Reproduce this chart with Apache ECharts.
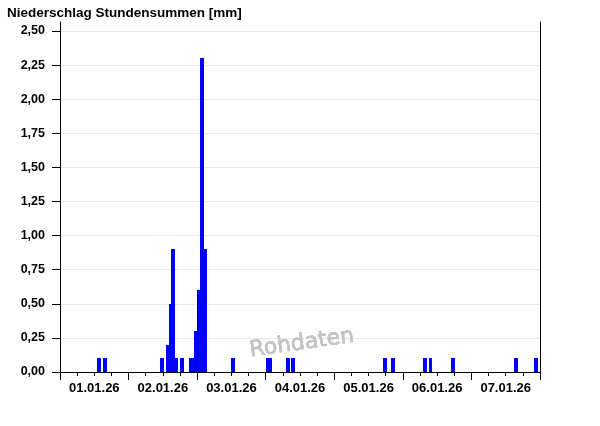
<!DOCTYPE html>
<html>
<head>
<meta charset="utf-8">
<script src="https://cdn.jsdelivr.net/npm/echarts@6/dist/echarts.min.js"></script>
<style>
html,body{margin:0;padding:0;background:#fff;}
#c{width:600px;height:426px;}
</style>
</head>
<body>
<div id="c"></div>
<script>
// Hours since 01.01.26 00:00 (start of each hourly sum) and precipitation [mm]
const rainHours  = [13, 15, 35, 37, 38, 39, 40, 42, 45, 46, 47, 48, 49, 50, 60, 72, 73, 79, 81, 113, 116, 127, 129, 137, 159, 166];
const rainValues = [0.1, 0.1, 0.1, 0.2, 0.5, 0.9, 0.1, 0.1, 0.1, 0.1, 0.3, 0.6, 2.3, 0.9, 0.1, 0.1, 0.1, 0.1, 0.1, 0.1, 0.1, 0.1, 0.1, 0.1, 0.1, 0.1];
const dayLabels  = ['01.01.26', '02.01.26', '03.01.26', '04.01.26', '05.01.26', '06.01.26', '07.01.26'];
const yTicks     = [0, 0.25, 0.5, 0.75, 1.0, 1.25, 1.5, 1.75, 2.0, 2.25, 2.5];
const yMax = 2.566;
const hoursTotal = 168;

const barData = rainHours.map((h, i) => [h, rainValues[i]]);
const midnights = [], sixHours = [], noons = [];
for (let h = 0; h <= hoursTotal; h += 6) {
  sixHours.push(h);
  if (h % 24 === 0) midnights.push(h);
  if (h % 24 === 12) noons.push(h);
}

const chart = echarts.init(document.getElementById('c'), null, {renderer: 'canvas'});
const fontFam = 'Liberation Sans, Arial, sans-serif';
chart.setOption({
  animation: false,
  backgroundColor: '#fff',
  title: {
    text: 'Niederschlag Stundensummen [mm]',
    left: 2, top: 1,
    textStyle: {fontFamily: fontFam, fontSize: 13.5, fontWeight: 'bold', color: '#000'}
  },
  grid: {left: 60, right: 60, top: 22, bottom: 54, containLabel: false},
  xAxis: [{
    type: 'value', min: 0, max: hoursTotal, position: 'bottom',
    axisLine: {show: true, onZero: false, lineStyle: {color: '#000', width: 1}},
    axisTick: {show: true, customValues: midnights, length: 8, lineStyle: {color: '#000', width: 1}},
    axisLabel: {show: false},
    splitLine: {show: false}
  }, {
    type: 'value', min: 0, max: hoursTotal, position: 'bottom', offset: 0,
    axisLine: {show: false},
    axisTick: {show: true, customValues: sixHours, length: 4, lineStyle: {color: '#000', width: 1}},
    axisLabel: {
      show: true, customValues: noons, margin: 10,
      fontFamily: fontFam, fontSize: 13, fontWeight: 'bold', color: '#000',
      formatter: v => dayLabels[Math.round((v - 12) / 24)] || ''
    },
    splitLine: {show: false}
  }],
  yAxis: [{
    type: 'value', min: 0, max: yMax, position: 'left',
    axisLine: {show: true, onZero: false, lineStyle: {color: '#000', width: 1}},
    axisTick: {show: true, customValues: yTicks, length: 8, lineStyle: {color: '#000'}},
    axisLabel: {
      show: true, customValues: yTicks, margin: 15,
      fontFamily: fontFam, fontSize: 12.5, fontWeight: 'bold', color: '#000',
      formatter: v => v.toFixed(2).replace('.', ',')
    },
    splitLine: {show: true, lineStyle: {color: '#e9e9e9', width: 1}}
  }, {
    type: 'value', min: 0, max: yMax, position: 'right',
    axisLine: {show: true, onZero: false, lineStyle: {color: '#000', width: 1}},
    axisTick: {show: false}, axisLabel: {show: false}, splitLine: {show: false}
  }],
  series: [{
    type: 'custom',
    xAxisIndex: 0, yAxisIndex: 0,
    data: barData,
    encode: {x: 0, y: 1},
    renderItem: function (params, api) {
      const h = api.value(0), v = api.value(1);
      const p0 = api.coord([h, 0]);
      const p1 = api.coord([h + 1, v]);
      const x0 = Math.round(p0[0]), x1 = Math.round(p1[0]) + 1;
      const yTop = Math.round(p1[1]), yBot = Math.round(p0[1]);
      return {
        type: 'rect',
        shape: {x: x0, y: yTop, width: x1 - x0, height: yBot - yTop},
        style: {fill: '#0000ff', stroke: null, lineWidth: 0}
      };
    }
  }, {
    type: 'line',
    xAxisIndex: 0, yAxisIndex: 0,
    data: [],
    markLine: {
      silent: true, symbol: 'none', label: {show: false},
      lineStyle: {color: '#000060', width: 1, type: 'solid', opacity: 0.8},
      data: [[{coord: [48, 0]}, {coord: [48, rainValues[rainHours.indexOf(48)]]}]]
    }
  }],
  graphic: [{
    type: 'text',
    left: 248, top: 325,
    rotation: 8 * Math.PI / 180,
    z: 10,
    style: {
      text: 'Rohdaten',
      fontFamily: 'DejaVu Sans, sans-serif',
      fontSize: 22,
      fill: '#c4c4c4',
      stroke: '#8c8c8c', lineWidth: 0.4,
      shadowColor: 'rgba(0,0,0,0.3)', shadowBlur: 2, shadowOffsetX: 1, shadowOffsetY: 1
    }
  }]
});
</script>
</body>
</html>
